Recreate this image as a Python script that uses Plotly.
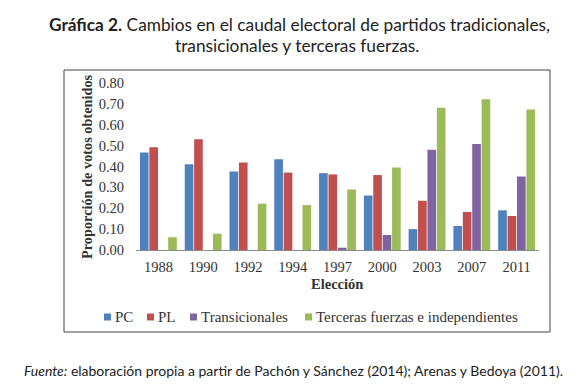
import plotly.graph_objects as go

years = ["1988", "1990", "1992", "1994", "1997", "2000", "2003", "2007", "2011"]
pc = [0.467, 0.411, 0.376, 0.435, 0.368, 0.261, 0.100, 0.115, 0.190]
pl = [0.492, 0.531, 0.419, 0.371, 0.362, 0.359, 0.236, 0.182, 0.163]
trans = [0, 0, 0, 0, 0.011, 0.072, 0.480, 0.508, 0.352]
terceras = [0.061, 0.078, 0.222, 0.215, 0.290, 0.395, 0.682, 0.722, 0.673]
series_names = ["PC", "PL", "Transicionales", "Terceras fuerzas e independientes"]
colors = ["#4F81BD", "#C0504D", "#8064A2", "#9BBB59"]
yticks = [0, 0.1, 0.2, 0.3, 0.4, 0.5, 0.6, 0.7, 0.8]

W, H = 580, 390
L, R, T, B = 136, 539, 83, 250

def px(x):
    return (x - L) / (R - L)

def py(y):
    return (B - y) / (B - T)

serif = "Liberation Serif"
txt = "#333333"
fig = go.Figure()
for name, vals, c in zip(series_names, [pc, pl, trans, terceras], colors):
    fig.add_trace(go.Bar(x=years, y=vals, name=name, marker=dict(color=c, line=dict(width=0))))

fig.update_layout(
    width=W, height=H,
    margin=dict(l=L, r=W - R, t=T, b=H - B, autoexpand=False),
    paper_bgcolor="white", plot_bgcolor="white",
    barmode="group", bargap=0.16, bargroupgap=0.08,
    font=dict(family=serif, size=14, color=txt),
    xaxis=dict(showgrid=False, showline=True, linecolor="#8c8c8c", linewidth=1,
               ticks="", automargin=False, ticklabelstandoff=4,
               tickfont=dict(family=serif, size=14.5, color=txt)),
    yaxis=dict(range=[0, 0.8], tickvals=yticks, tickformat=".2f", showgrid=False,
               showline=False, zeroline=False, ticks="", automargin=False,
               ticklabelstandoff=11,
               tickfont=dict(family=serif, size=14.5, color=txt)),
    showlegend=False,
)

# manual legend (layout positions of each entry's swatch, in pixels)
legend_x = [104, 147, 190, 305]
legend_y = 317
for name, c, lx in zip(series_names, colors, legend_x):
    fig.add_shape(type="rect", xref="paper", yref="paper",
                  x0=px(lx), x1=px(lx + 7), y0=py(legend_y + 3.5), y1=py(legend_y - 3.5),
                  line=dict(width=0), fillcolor=c)
    fig.add_annotation(text=name, xref="paper", yref="paper", x=px(lx + 9), y=py(legend_y),
                       xanchor="left", yanchor="middle", showarrow=False,
                       font=dict(family=serif, size=15, color=txt))

# chart border
fig.add_shape(type="rect", xref="paper", yref="paper",
              x0=px(64), x1=px(550), y0=py(332), y1=py(70),
              line=dict(color="#444444", width=1), fillcolor="rgba(0,0,0,0)", layer="below")

# axis titles
fig.add_annotation(text="<b>Elección</b>", xref="paper", yref="paper", x=px(337), y=py(284),
                   xanchor="center", yanchor="middle",
                   showarrow=False, font=dict(family=serif, size=14.5, color=txt))
fig.add_annotation(text="<b>Proporción de votos obtenidos</b>", xref="paper", yref="paper",
                   x=px(87), y=py(167), xanchor="center", yanchor="middle",
                   textangle=-90, showarrow=False,
                   font=dict(family=serif, size=14.3, color=txt))

sans = "Lato"
fig.add_annotation(text="<b>Gráfica 2.</b> Cambios en el caudal electoral de partidos tradicionales,",
                   xref="paper", yref="paper", x=px(299), y=py(25), xanchor="center", yanchor="middle",
                   showarrow=False, font=dict(family=sans, size=17.3, color="#222222"))
fig.add_annotation(text="transicionales y terceras fuerzas.",
                   xref="paper", yref="paper", x=px(297), y=py(46), xanchor="center", yanchor="middle",
                   showarrow=False, font=dict(family=sans, size=17.3, color="#222222"))
fig.add_annotation(text="<i>Fuente:</i> elaboración propia a partir de Pachón y Sánchez (2014); Arenas y Bedoya (2011).",
                   xref="paper", yref="paper", x=px(22), y=py(370), xanchor="left", yanchor="middle",
                   showarrow=False, font=dict(family=sans, size=14, color="#222222"))

fig.write_html("out.html", config={"displayModeBar": False},
               post_script="document.body.style.margin='0px';")
